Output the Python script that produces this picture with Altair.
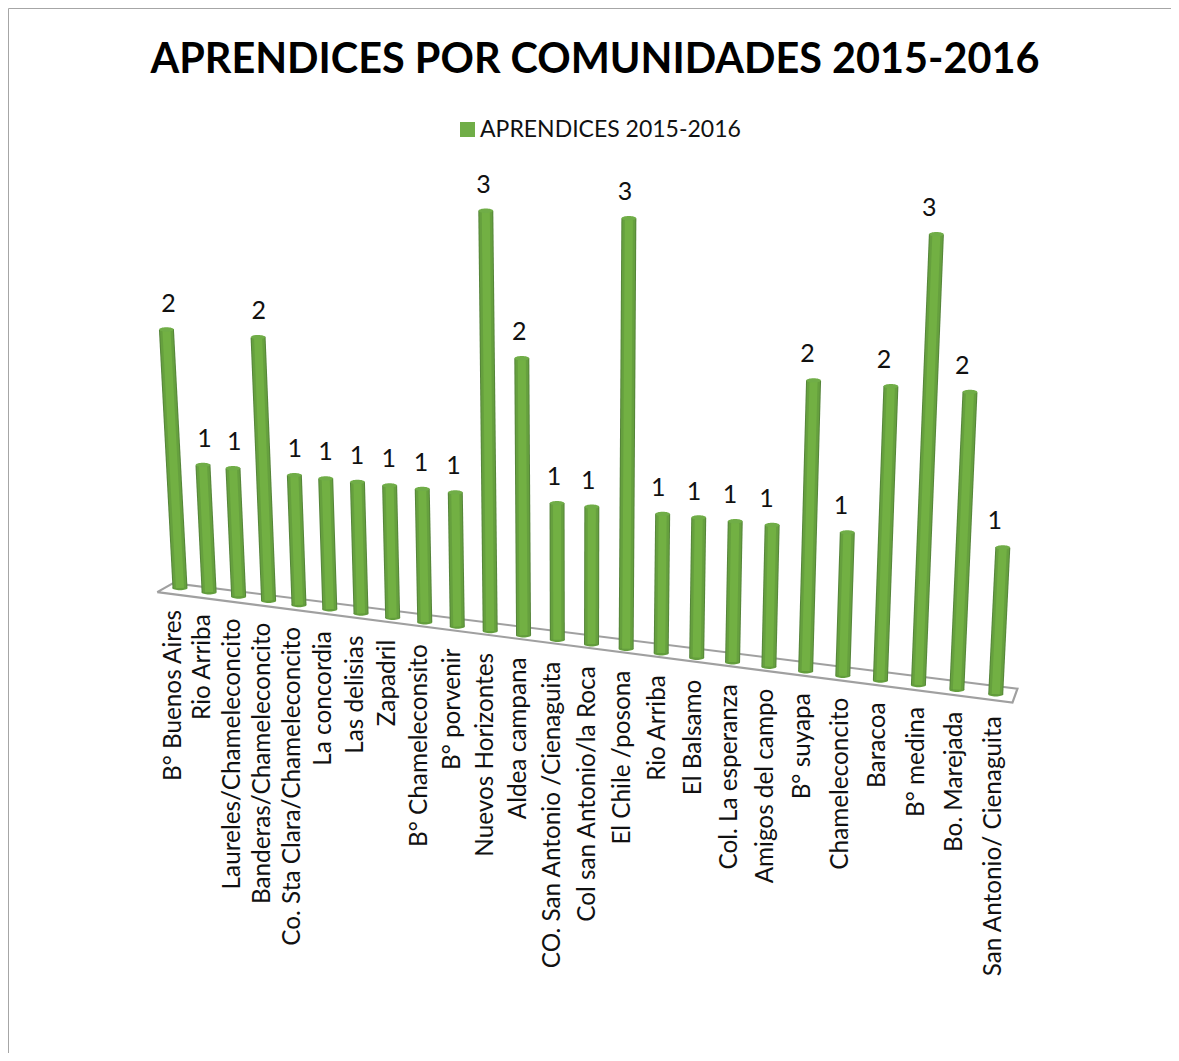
import altair as alt
import pandas as pd

CATEGORIES = ["B° Buenos Aires", "Rio Arriba", "Laureles/Chameleconcito", "Banderas/Chameleconcito",
              "Co. Sta Clara/Chameleconcito", "La concordia", "Las delisias", "Zapadril",
              "B° Chameleconsito", "B° porvenir", "Nuevos Horizontes", "Aldea campana",
              "CO. San Antonio /Cienaguita", "Col san Antonio/la Roca", "El Chile /posona", "Rio Arriba",
              "El Balsamo", "Col. La esperanza", "Amigos del campo", "B° suyapa", "Chameleconcito",
              "Baracoa", "B° medina", "Bo. Marejada", "San Antonio/ Cienaguita"]
VALUES = [2, 1, 1, 2, 1, 1, 1, 1, 1, 1, 3, 2, 1, 1, 3, 1, 1, 1, 1, 2, 1, 2, 3, 2, 1]
SERIES = "APRENDICES 2015-2016"
TITLE = "APRENDICES POR COMUNIDADES 2015-2016"
W, H = 1163, 1045
FONT = "Lato"
HEIGHT_TRIM = {1: -3.5, 2: -1.5, 3: 4.7}


def floor_point(i):
    """Perspective floor position of category i, in scene units."""
    return 172 + 28.9 * i + 0.212 * i * i, 580 + 4.2 * i + 0.0095 * i * i


def project(i, v):
    """3-D projection of value v standing on category i."""
    x0, y0 = floor_point(i)
    h = v * (130 + 0.85 * i) + HEIGHT_TRIM[v]
    return x0 + (i - 12.5) * 0.0042 * h, y0 - h


rows, bars = [], []
for i, (c, v) in enumerate(zip(CATEGORIES, VALUES)):
    x0, y0 = floor_point(i)
    x1, y1 = project(i, v)
    rows.append(dict(i=i, cat=c, val=str(v), x0=x0, y0=y0, x1=x1, y1=y1,
                     lx=x1 + 2 - 0.42 * i, ly=y1 - 26, ax=x0 - 6.5 + 0.21 * i, ay=y0 + 22, series=SERIES))
    bars.append(dict(i=i, x=x0, y=y0))
    bars.append(dict(i=i, x=x1, y=y1))
df = pd.DataFrame(rows)
bar_df = pd.DataFrame(bars)

fx0, fy0 = floor_point(-0.2)
fx1, fy1 = floor_point(24.3)
floor_df = pd.DataFrame([
    dict(k=0, x=fx0 - 17, y=fy0 + 5), dict(k=1, x=fx0 - 1, y=fy0 - 4),
    dict(k=2, x=fx1 + 10, y=fy1 - 7), dict(k=3, x=fx1 + 5, y=fy1 + 7),
    dict(k=4, x=fx0 - 17, y=fy0 + 5),
])
frame_df = pd.DataFrame([dict(k=0, x=0.5, y=H), dict(k=1, x=0.5, y=0.5), dict(k=2, x=W, y=0.5)])

X = alt.X("x:Q", scale=alt.Scale(domain=[0, W], nice=False, zero=False), axis=None)
Y = alt.Y("y:Q", scale=alt.Scale(domain=[H, 0], nice=False, zero=False), axis=None)
XS = alt.Scale(domain=[0, W], nice=False, zero=False)
YS = alt.Scale(domain=[H, 0], nice=False, zero=False)
ELLIPSE = "M-1,0A1,0.3 0 1,0 1,0A1,0.3 0 1,0 -1,0Z"


def bar_layer(color, width):
    return alt.Chart(bar_df).mark_line(color=color, strokeWidth=width, strokeCap="butt").encode(
        x=X, y=Y, detail="i:N", order="y:Q")


frame = alt.Chart(frame_df).mark_line(color="#a6a6a6", strokeWidth=1).encode(x=X, y=Y, order="k:Q")
floor = alt.Chart(floor_df).mark_line(color="#a0a0a0", strokeWidth=2.2).encode(x=X, y=Y, order="k:Q")
base = alt.Chart(df).mark_point(shape=ELLIPSE, filled=True, opacity=1, size=225, color="#639e3c").encode(
    x=alt.X("x0:Q", scale=XS, axis=None), y=alt.Y("y0:Q", scale=YS, axis=None))
cap = alt.Chart(df).mark_point(shape=ELLIPSE, filled=True, opacity=1, size=210).encode(
    x=alt.X("x1:Q", scale=XS, axis=None), y=alt.Y("y1:Q", scale=YS, axis=None),
    color=alt.Color("series:N", scale=alt.Scale(range=["#70ad47"]),
                    legend=alt.Legend(orient="none", legendX=448, legendY=110, title=None,
                                      symbolType="square", symbolSize=225, labelFontSize=23,
                                      labelFont=FONT, labelColor="#111111", symbolStrokeWidth=0,
                                      labelLimit=400, labelOffset=1)))
values = alt.Chart(df).mark_text(font=FONT, fontSize=25, color="#111111", baseline="middle").encode(
    x=alt.X("lx:Q", scale=XS, axis=None), y=alt.Y("ly:Q", scale=YS, axis=None), text="val:N")
labels = alt.Chart(df).mark_text(font=FONT, fontSize=24.3, color="#111111", angle=270, align="right",
                                 baseline="middle").encode(
    x=alt.X("ax:Q", scale=XS, axis=None), y=alt.Y("ay:Q", scale=YS, axis=None), text="cat:N")
title = alt.Chart(pd.DataFrame([dict(t=TITLE, x=587, y=53)])).mark_text(
    font=FONT, fontSize=41.4, fontWeight="bold", color="#000000", baseline="middle").encode(
    x=X, y=Y, text="t:N")

chart = alt.layer(frame, floor, base, bar_layer("#55853a", 15), bar_layer("#66a03e", 13),
                  bar_layer("#72b043", 8), cap, values, labels, title).properties(
    width=W, height=H, padding=0, autosize=alt.AutoSizeParams(type="none"),
).configure_view(stroke=None)

chart.save("out.html", embed_options={"renderer": "svg", "actions": False})
